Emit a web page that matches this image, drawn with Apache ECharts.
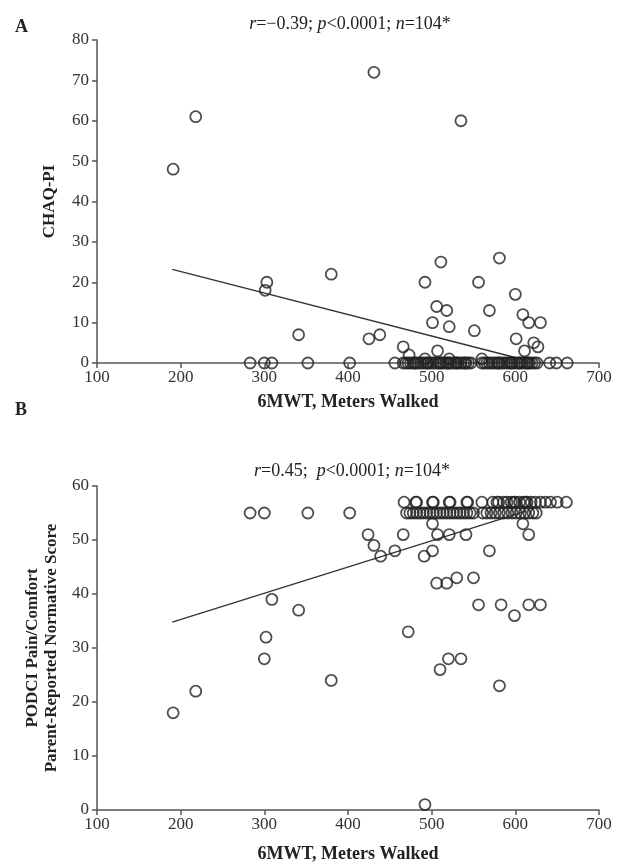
<!DOCTYPE html>
<html>
<head>
<meta charset="utf-8">
<script src="https://cdn.jsdelivr.net/npm/echarts@6/dist/echarts.min.js"></script>
<style>
  html, body { margin: 0; padding: 0; background: #fff; }
  #chart { width: 617px; height: 865px; }
</style>
</head>
<body>
<div id="chart"></div>
<script>
// panel A: 6MWT vs CHAQ-PI
const chaqX = [191, 218, 301, 303, 341, 380, 425, 431, 438, 466, 473, 492, 492, 501, 506, 507, 511, 518, 521, 521,
  535, 551, 556, 560, 569, 581, 600, 601, 609, 611, 616, 622, 627, 630,
  283, 300, 309, 352, 402,
  456, 466, 469, 472, 475, 478, 481, 484, 487, 490, 493, 496, 499, 502, 505, 508, 511, 514, 517, 520, 523, 526, 529,
  532, 535, 538, 541, 544, 547,
  560, 563, 566, 569, 572, 575, 578, 581, 584, 587, 590, 593, 596, 599, 602, 605, 608, 611, 614, 617, 620, 623, 626,
  641, 649, 662, 480, 495, 510, 520, 530, 540, 580, 595, 605, 615];
const chaqY = [48, 61, 18, 20, 7, 22, 6, 72, 7, 4, 2, 20, 1, 10, 14, 3, 25, 13, 9, 1,
  60, 8, 20, 1, 13, 26, 17, 6, 12, 3, 10, 5, 4, 10,
  0, 0, 0, 0, 0,
  0, 0, 0, 0, 0, 0, 0, 0, 0, 0, 0, 0, 0, 0, 0, 0, 0, 0, 0, 0, 0, 0, 0,
  0, 0, 0, 0, 0, 0,
  0, 0, 0, 0, 0, 0, 0, 0, 0, 0, 0, 0, 0, 0, 0, 0, 0, 0, 0, 0, 0, 0, 0,
  0, 0, 0, 0, 0, 0, 0, 0, 0, 0, 0, 0, 0];
const chaqFitX = [190, 601];
const chaqFitY = [23.2, 1.3];

// panel B: 6MWT vs PODCI pain/comfort
const podciX = [191, 218, 283, 300, 300, 302, 309, 341, 352, 380, 402,
  424, 431, 439, 456, 466, 472, 491, 492, 501, 501, 506, 507, 510, 518, 520, 521, 530, 535, 541,
  550, 556, 569, 581, 583, 599, 609, 616, 616, 630,
  467, 481, 501, 521, 542, 560, 573, 580, 586, 590, 595, 600, 605, 610, 614, 619, 624, 630, 636, 642,
  650, 661, 482, 502, 522, 543, 578, 598, 612,
  470, 474, 478, 482, 486, 490, 494, 498, 502, 506, 510, 514, 518, 522, 526, 530, 534, 538, 542, 546,
  561, 566, 571, 576, 581, 586, 591, 596, 601, 606, 611, 616, 621, 625, 550];
const podciY = [18, 22, 55, 55, 28, 32, 39, 37, 55, 24, 55,
  51, 49, 47, 48, 51, 33, 47, 1, 53, 48, 42, 51, 26, 42, 28, 51, 43, 28, 51,
  43, 38, 48, 23, 38, 36, 53, 51, 38, 38,
  57, 57, 57, 57, 57, 57, 57, 57, 57, 57, 57, 57, 57, 57, 57, 57, 57, 57, 57, 57,
  57, 57, 57, 57, 57, 57, 57, 57, 57,
  55, 55, 55, 55, 55, 55, 55, 55, 55, 55, 55, 55, 55, 55, 55, 55, 55, 55, 55, 55,
  55, 55, 55, 55, 55, 55, 55, 55, 55, 55, 55, 55, 55, 55, 55];
const podciFitX = [190, 612];
const podciFitY = [34.8, 55.3];

const xTicks = { min: 100, max: 700, interval: 100 };

const serif = '"Liberation Serif", "DejaVu Serif", serif';
const ink = '#222';

const pairs = (xs, ys) => xs.map((x, i) => [x, ys[i]]);

const italic = { fontStyle: 'italic', fontFamily: serif, fontSize: 18, color: ink };

function xAxisFor(idx, gap) {
  return {
    type: 'value', gridIndex: idx,
    min: xTicks.min, max: xTicks.max, interval: xTicks.interval,
    name: '6MWT, Meters Walked', nameLocation: 'middle', nameGap: gap,
    nameTextStyle: { fontFamily: serif, fontWeight: 'bold', fontSize: 18, color: ink },
    axisLine: { lineStyle: { color: '#555', width: 1.5 } },
    axisTick: { length: 5, lineStyle: { color: '#555', width: 1.5 } },
    axisLabel: { fontFamily: serif, fontSize: 17, color: '#333', margin: 6 },
    splitLine: { show: false }
  };
}

function yAxisFor(idx, max, name, gap) {
  return {
    type: 'value', gridIndex: idx, min: 0, max: max, interval: 10,
    name: name, nameLocation: 'middle', nameGap: gap,
    nameTextStyle: { fontFamily: serif, fontWeight: 'bold', fontSize: 17, color: ink, lineHeight: 19 },
    axisLine: { show: true, lineStyle: { color: '#555', width: 1.5 } },
    axisTick: { show: true, length: 5, lineStyle: { color: '#555', width: 1.5 } },
    axisLabel: { fontFamily: serif, fontSize: 17, color: '#333', margin: 8 },
    splitLine: { show: false }
  };
}

function dots(idx, data) {
  return {
    type: 'scatter', xAxisIndex: idx, yAxisIndex: idx,
    data: data, symbol: 'circle', symbolSize: 11,
    itemStyle: { color: 'rgba(0,0,0,0)', borderColor: ink, borderWidth: 1.8 },
    silent: true
  };
}

function fit(idx, data) {
  return {
    type: 'line', xAxisIndex: idx, yAxisIndex: idx,
    data: data, symbol: 'none',
    lineStyle: { color: '#333', width: 1.3 },
    silent: true, z: 1
  };
}

const myChart = echarts.init(document.getElementById('chart'));
const option = {
  backgroundColor: '#fff',
  animation: false,
  title: [
    { text: 'A', left: 10, top: 13, textStyle: { fontFamily: serif, fontWeight: 'bold', fontSize: 18, color: ink } },
    { text: 'B', left: 10, top: 396, textStyle: { fontFamily: serif, fontWeight: 'bold', fontSize: 18, color: ink } },
    {
      text: '{i|r}=\u22120.39; {i|p}<0.0001; {i|n}=104*', left: 345, textAlign: 'center', top: 10,
      textStyle: { fontFamily: serif, fontSize: 18, fontWeight: 'normal', color: ink, rich: { i: italic } }
    },
    {
      text: '{i|r}=0.45;  {i|p}<0.0001; {i|n}=104*', left: 347, textAlign: 'center', top: 457,
      textStyle: { fontFamily: serif, fontSize: 18, fontWeight: 'normal', color: ink, rich: { i: italic } }
    }
  ],
  grid: [
    { left: 97, right: 18, top: 40, height: 323 },
    { left: 97, right: 18, top: 486, height: 324 }
  ],
  xAxis: [xAxisFor(0, 30), xAxisFor(1, 35)],
  yAxis: [
    yAxisFor(0, 80, 'CHAQ-PI', 38),
    yAxisFor(1, 60, 'PODCI Pain/Comfort\nParent-Reported Normative Score', 34)
  ],
  series: [
    fit(0, pairs(chaqFitX, chaqFitY)),
    dots(0, pairs(chaqX, chaqY)),
    fit(1, pairs(podciFitX, podciFitY)),
    dots(1, pairs(podciX, podciY))
  ]
};

option && myChart.setOption(option);
</script>
</body>
</html>
